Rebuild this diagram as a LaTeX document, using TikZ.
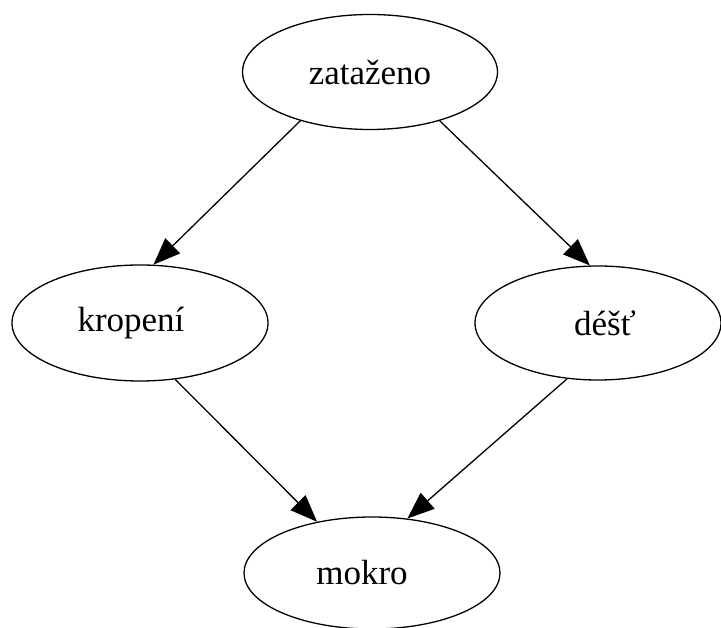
\documentclass[tikz,border=0pt]{standalone}
\usepackage{fontspec}
\setmainfont{Liberation Serif}
\usetikzlibrary{arrows.meta,shapes.geometric}
\begin{document}
\begin{tikzpicture}[x=1pt,y=-1pt,
  state/.style={ellipse,draw,line width=1.3pt,inner sep=0pt,font=\fontsize{35}{40}\selectfont},
  link/.style={line width=1.3pt,-{Triangle[length=27pt,width=21pt]}}]
\useasboundingbox (0,0) rectangle (721,628);
\node[state,minimum width=255pt,minimum height=115pt] (z) at (370,72) {zataženo};
\node[state,minimum width=256pt,minimum height=116pt] (k) at (140,323) {\hspace*{-18pt}kropení};
\node[state,minimum width=246pt,minimum height=114pt] (d) at (598,323) {\hspace*{14pt}déšť};
\node[state,minimum width=256pt,minimum height=112pt] (m) at (372,573) {\hspace*{-20pt}mokro};
\draw[link] (z.215) -- (k.77);
\draw[link] (z.325) -- (d.98);
\draw[link] (k.302) -- (m.137);
\draw[link] (d.241) -- (m.57);
\end{tikzpicture}
\end{document}
